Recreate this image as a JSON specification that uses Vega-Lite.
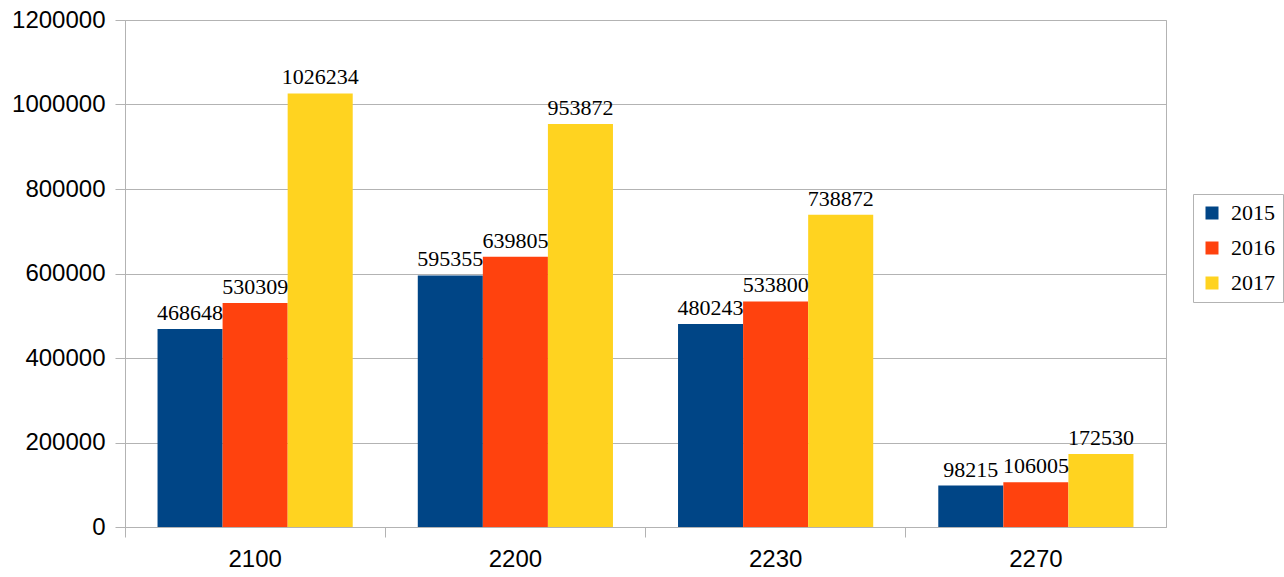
{
  "$schema": "https://vega.github.io/schema/vega-lite/v6.json",
  "autosize": "none",
  "width": 1041,
  "height": 507,
  "padding": {"left": 125, "top": 20, "right": 118, "bottom": 50},
  "background": "white",
  "config": {
    "view": {"stroke": "#b3b3b3", "strokeWidth": 1}
  },
  "data": {
    "values": [
      {"code": "2100", "year": "2015", "value": 468648},
      {"code": "2100", "year": "2016", "value": 530309},
      {"code": "2100", "year": "2017", "value": 1026234},
      {"code": "2200", "year": "2015", "value": 595355},
      {"code": "2200", "year": "2016", "value": 639805},
      {"code": "2200", "year": "2017", "value": 953872},
      {"code": "2230", "year": "2015", "value": 480243},
      {"code": "2230", "year": "2016", "value": 533800},
      {"code": "2230", "year": "2017", "value": 738872},
      {"code": "2270", "year": "2015", "value": 98215},
      {"code": "2270", "year": "2016", "value": 106005},
      {"code": "2270", "year": "2017", "value": 172530}
    ]
  },
  "encoding": {
    "x": {
      "field": "code", "type": "nominal", "title": null,
      "scale": {"paddingInner": 0, "paddingOuter": 0},
      "axis": {
        "labelAngle": 0, "labelFont": "Liberation Sans", "labelFontSize": 24, "labelColor": "#000000",
        "labelPadding": 10, "tickSize": 10, "tickColor": "#b3b3b3", "domainColor": "#b3b3b3",
        "bandPosition": 0, "grid": false
      }
    },
    "xOffset": {
      "field": "year", "type": "nominal",
      "scale": {"paddingInner": 0, "paddingOuter": 0.5}
    },
    "y": {
      "field": "value", "type": "quantitative", "title": null,
      "scale": {"domain": [0, 1200000], "nice": false},
      "axis": {
        "values": [0, 200000, 400000, 600000, 800000, 1000000, 1200000],
        "format": "d", "labelFont": "Liberation Sans", "labelFontSize": 24, "labelColor": "#000000",
        "labelPadding": 10, "tickSize": 10, "tickColor": "#b3b3b3", "domainColor": "#b3b3b3",
        "gridColor": "#b3b3b3", "grid": true
      }
    }
  },
  "layer": [
    {
      "mark": {"type": "bar"},
      "encoding": {
        "color": {
          "field": "year", "type": "nominal", "title": null,
          "scale": {"domain": ["2015", "2016", "2017"], "range": ["#004586", "#ff420e", "#ffd320"]},
          "legend": {
            "orient": "none", "legendX": 1068, "legendY": 174,
            "symbolType": "square", "symbolSize": 169, "symbolStrokeWidth": 0,
            "labelFont": "Liberation Serif", "labelFontSize": 22, "labelColor": "#000000",
            "labelOffset": 8, "rowPadding": 13, "padding": 8,
            "strokeColor": "#b3b3b3", "fillColor": "white"
          }
        }
      }
    },
    {
      "mark": {"type": "text", "baseline": "alphabetic", "dy": -9, "font": "Liberation Serif", "fontSize": 22, "color": "#000000"},
      "encoding": {
        "text": {"field": "value", "type": "quantitative", "format": "d"}
      }
    }
  ]
}
